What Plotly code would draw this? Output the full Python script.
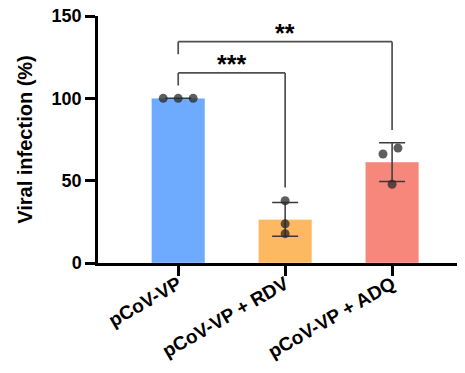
import numpy as np
import plotly.graph_objects as go

categories = ["pCoV-VP", "pCoV-VP + RDV", "pCoV-VP + ADQ"]
points = [
    [100.0, 100.0, 100.0],
    [37.8, 23.8, 17.8],
    [66.2, 69.8, 47.8],
]
point_offsets = [
    [-0.14, 0.0, 0.14],
    [0.0, 0.0, 0.0],
    [-0.085, 0.055, 0.0],
]
bar_colors = ["#6eaafe", "#fdb862", "#f7877b"]

# significance comparisons: (group a, group b, bracket height, leg a bottom, leg b bottom, label)
comp_a = [0, 0]
comp_b = [1, 2]
comp_top = [115.4, 134.4]
comp_leg_a = [107.8, 126.8]
comp_leg_b = [45.8, 80.8]
comp_label = ["***", "**"]

y_ticks = [0, 50, 100, 150]

means = [float(np.mean(p)) for p in points]
sds = [float(np.std(p, ddof=1)) for p in points]
xs = list(range(len(categories)))

fig = go.Figure()
fig.add_trace(go.Bar(
    x=xs, y=means, width=0.5,
    marker=dict(color=bar_colors, line=dict(color="rgba(255,255,255,0.35)", width=1)),
    error_y=dict(type="data", array=sds, visible=True, color="#3a3a3a", thickness=1.5, width=13),
    showlegend=False, hoverinfo="skip",
))

px_, py_ = [], []
for i, (vals, offs) in enumerate(zip(points, point_offsets)):
    for v, o in zip(vals, offs):
        px_.append(i + o)
        py_.append(v)
fig.add_trace(go.Scatter(
    x=px_, y=py_, mode="markers",
    marker=dict(color="rgba(40,40,40,0.75)", size=9, line=dict(width=0)),
    showlegend=False, hoverinfo="skip",
))

line_style = dict(color="#4f4f4f", width=1.7)
for a, b, top, la, lb, lab in zip(comp_a, comp_b, comp_top, comp_leg_a, comp_leg_b, comp_label):
    fig.add_shape(type="line", x0=a, x1=a, y0=la, y1=top, xref="x", yref="y", line=line_style)
    fig.add_shape(type="line", x0=a, x1=b, y0=top, y1=top, xref="x", yref="y", line=line_style)
    fig.add_shape(type="line", x0=b, x1=b, y0=top, y1=lb, xref="x", yref="y", line=line_style)
    fig.add_annotation(x=(a + b) / 2, y=top - 4.4, text="<b>%s</b>" % lab, showarrow=False,
                       xref="x", yref="y", yanchor="bottom",
                       font=dict(family="Liberation Sans, Arial", size=25, color="black"))

fig.update_layout(
    width=449, height=357,
    margin=dict(l=90, r=0, t=8, b=102),
    paper_bgcolor="white", plot_bgcolor="white",
    font=dict(family="Liberation Sans, Arial", color="black"),
)
fig.update_xaxes(
    range=[-0.75, 2.607], tickvals=xs, ticktext=categories, tickangle=-30,
    showline=True, linecolor="black", linewidth=2.5, ticks="outside", ticklen=10,
    tickwidth=2.5, tickcolor="black", showgrid=False, zeroline=False, automargin=False,
    ticklabelstandoff=-10,
    tickfont=dict(size=19, weight="bold", color="black"),
)
fig.update_yaxes(
    range=[0, 150], tickvals=y_ticks, showline=True, linecolor="black", linewidth=2.5,
    ticks="outside", ticklen=10, tickwidth=2.5, tickcolor="black",
    showgrid=False, zeroline=False, automargin=False, ticklabeloverflow="allow",
    tickfont=dict(size=18, weight="bold", color="black"),
    title=dict(text="Viral infection (%)", font=dict(size=20, weight="bold", color="black"), standoff=14),
)
fig.write_html("out.html")
